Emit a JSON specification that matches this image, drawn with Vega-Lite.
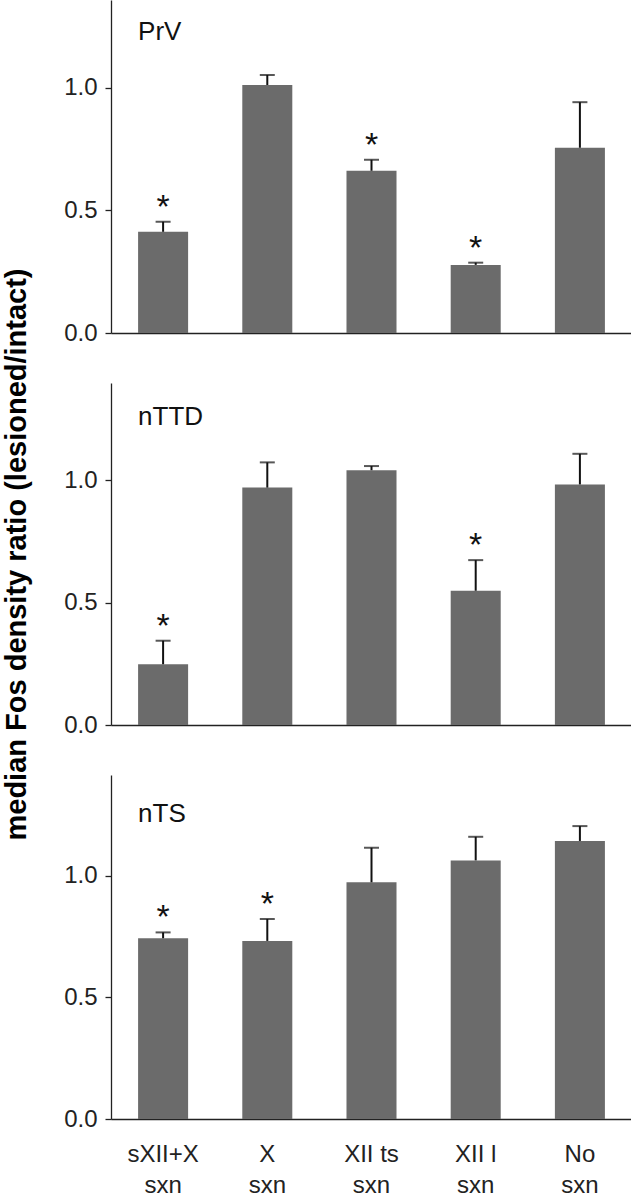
{
  "$schema": "https://vega.github.io/schema/vega-lite/v6.json",
  "padding": {"left": 2, "top": 0, "right": 0, "bottom": 0},
  "background": "white",
  "bounds": "flush",
  "spacing": 50,
  "datasets": {
    "bars": [
      {"panel": "PrV", "cat": "sXII+X|sxn", "value": 0.413, "err": 0.454, "sig": true},
      {"panel": "PrV", "cat": "X|sxn", "value": 1.012, "err": 1.053, "sig": false},
      {"panel": "PrV", "cat": "XII ts|sxn", "value": 0.662, "err": 0.707, "sig": true},
      {"panel": "PrV", "cat": "XII l|sxn", "value": 0.278, "err": 0.287, "sig": true},
      {"panel": "PrV", "cat": "No|sxn", "value": 0.756, "err": 0.942, "sig": false},
      {"panel": "nTTD", "cat": "sXII+X|sxn", "value": 0.248, "err": 0.344, "sig": true},
      {"panel": "nTTD", "cat": "X|sxn", "value": 0.969, "err": 1.072, "sig": false},
      {"panel": "nTTD", "cat": "XII ts|sxn", "value": 1.04, "err": 1.057, "sig": false},
      {"panel": "nTTD", "cat": "XII l|sxn", "value": 0.548, "err": 0.673, "sig": true},
      {"panel": "nTTD", "cat": "No|sxn", "value": 0.982, "err": 1.107, "sig": false},
      {"panel": "nTS", "cat": "sXII+X|sxn", "value": 0.743, "err": 0.767, "sig": true},
      {"panel": "nTS", "cat": "X|sxn", "value": 0.732, "err": 0.822, "sig": true},
      {"panel": "nTS", "cat": "XII ts|sxn", "value": 0.973, "err": 1.115, "sig": false},
      {"panel": "nTS", "cat": "XII l|sxn", "value": 1.063, "err": 1.16, "sig": false},
      {"panel": "nTS", "cat": "No|sxn", "value": 1.143, "err": 1.204, "sig": false}
    ]
  },
  "vconcat": [
    {
      "width": 521,
      "height": 333,
      "data": {"name": "bars"},
      "transform": [{"filter": "datum.panel === 'PrV'"}],
      "encoding": {
        "x": {"field": "cat", "type": "nominal", "sort": null,
              "scale": {"paddingInner": 0.52, "paddingOuter": 0.26},
              "axis": {"labels": false, "ticks": false, "title": null}}
      },
      "layer": [
        {"mark": {"type": "bar", "color": "#6b6b6b"},
         "encoding": {"y": {"field": "value", "type": "quantitative",
           "scale": {"domain": [0, 1.359], "nice": false, "zero": true},
           "axis": {"values": [0, 0.5, 1], "format": ".1f", "title": null}}}},
        {"mark": {"type": "rule", "color": "#111", "strokeWidth": 2},
         "encoding": {"y": {"field": "value", "type": "quantitative"}, "y2": {"field": "err"}}},
        {"mark": {"type": "tick", "color": "#111", "size": 15, "thickness": 2},
         "encoding": {"y": {"field": "err", "type": "quantitative"}}},
        {"transform": [{"filter": "datum.sig"}],
         "mark": {"type": "text", "text": "*", "fontSize": 34, "font": "Liberation Sans", "baseline": "alphabetic", "dy": -4, "color": "#111"},
         "encoding": {"y": {"field": "err", "type": "quantitative"}}},
        {"data": {"values": [{"panel": "PrV", "name": "PrV"}]},
         "mark": {"type": "text", "fontSize": 26, "font": "Liberation Sans", "align": "left", "baseline": "middle", "dx": -25, "color": "#111"},
         "encoding": {"x": {"datum": "sXII+X|sxn", "type": "nominal"}, "y": {"datum": 1.229, "type": "quantitative"}, "text": {"field": "name"}}}
      ]
    },
    {
      "width": 521,
      "height": 342,
      "data": {"name": "bars"},
      "transform": [{"filter": "datum.panel === 'nTTD'"}],
      "encoding": {
        "x": {"field": "cat", "type": "nominal", "sort": null,
              "scale": {"paddingInner": 0.52, "paddingOuter": 0.26},
              "axis": {"labels": false, "ticks": false, "title": null}}
      },
      "layer": [
        {"mark": {"type": "bar", "color": "#6b6b6b"},
         "encoding": {"y": {"field": "value", "type": "quantitative",
           "scale": {"domain": [0, 1.396], "nice": false, "zero": true},
           "axis": {"values": [0, 0.5, 1], "format": ".1f",
                    "title": "median Fos density ratio (lesioned/intact)",
                    "titleFontSize": 29, "titleFontWeight": "bold", "titleFont": "Liberation Sans",
                    "titleColor": "#000", "titlePadding": 32}}}},
        {"mark": {"type": "rule", "color": "#111", "strokeWidth": 2},
         "encoding": {"y": {"field": "value", "type": "quantitative"}, "y2": {"field": "err"}}},
        {"mark": {"type": "tick", "color": "#111", "size": 15, "thickness": 2},
         "encoding": {"y": {"field": "err", "type": "quantitative"}}},
        {"transform": [{"filter": "datum.sig"}],
         "mark": {"type": "text", "text": "*", "fontSize": 34, "font": "Liberation Sans", "baseline": "alphabetic", "dy": -4, "color": "#111"},
         "encoding": {"y": {"field": "err", "type": "quantitative"}}},
        {"data": {"values": [{"panel": "nTTD", "name": "nTTD"}]},
         "mark": {"type": "text", "fontSize": 26, "font": "Liberation Sans", "align": "left", "baseline": "middle", "dx": -25, "color": "#111"},
         "encoding": {"x": {"datum": "sXII+X|sxn", "type": "nominal"}, "y": {"datum": 1.257, "type": "quantitative"}, "text": {"field": "name"}}}
      ]
    },
    {
      "width": 521,
      "height": 344,
      "data": {"name": "bars"},
      "transform": [{"filter": "datum.panel === 'nTS'"}],
      "encoding": {
        "x": {"field": "cat", "type": "nominal", "sort": null,
              "scale": {"paddingInner": 0.52, "paddingOuter": 0.26},
              "axis": {"labelExpr": "split(datum.label, '|')", "labelAngle": 0, "ticks": false, "tickSize": 0,
                       "labelPadding": 23, "labelLineHeight": 31, "labelBaseline": "top",
                       "labelFontSize": 24, "title": null}}
      },
      "layer": [
        {"mark": {"type": "bar", "color": "#6b6b6b"},
         "encoding": {"y": {"field": "value", "type": "quantitative",
           "scale": {"domain": [0, 1.414], "nice": false, "zero": true},
           "axis": {"values": [0, 0.5, 1], "format": ".1f", "title": null}}}},
        {"mark": {"type": "rule", "color": "#111", "strokeWidth": 2},
         "encoding": {"y": {"field": "value", "type": "quantitative"}, "y2": {"field": "err"}}},
        {"mark": {"type": "tick", "color": "#111", "size": 15, "thickness": 2},
         "encoding": {"y": {"field": "err", "type": "quantitative"}}},
        {"transform": [{"filter": "datum.sig"}],
         "mark": {"type": "text", "text": "*", "fontSize": 34, "font": "Liberation Sans", "baseline": "alphabetic", "dy": -4, "color": "#111"},
         "encoding": {"y": {"field": "err", "type": "quantitative"}}},
        {"data": {"values": [{"panel": "nTS", "name": "nTS"}]},
         "mark": {"type": "text", "fontSize": 26, "font": "Liberation Sans", "align": "left", "baseline": "middle", "dx": -25, "color": "#111"},
         "encoding": {"x": {"datum": "sXII+X|sxn", "type": "nominal"}, "y": {"datum": 1.254, "type": "quantitative"}, "text": {"field": "name"}}}
      ]
    }
  ],
  "config": {
    "view": {"stroke": null},
    "axis": {
      "labelFont": "Liberation Sans", "labelFontSize": 24, "labelColor": "#222",
      "domainColor": "#222", "domainWidth": 1.3, "tickColor": "#222", "tickWidth": 1.3,
      "tickSize": 6, "labelPadding": 8, "grid": false
    }
  }
}
